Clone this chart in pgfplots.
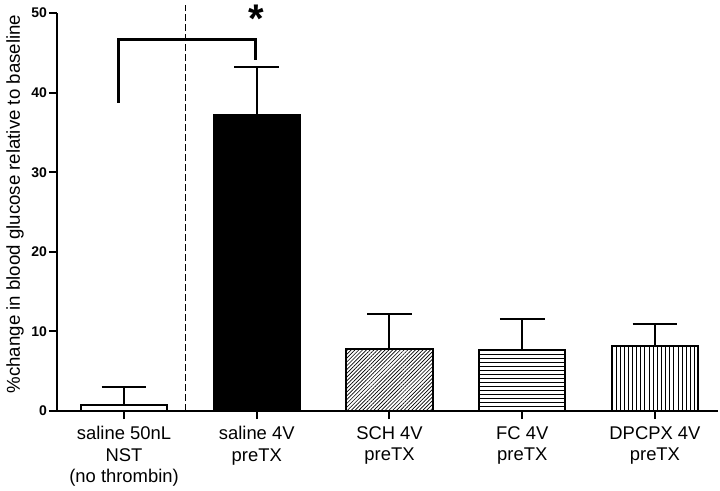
\documentclass[border=0pt]{standalone}
\usepackage{fontspec}
\setmainfont{Liberation Sans}
\usepackage{pgfplots}
\pgfplotsset{compat=1.18}
\usetikzlibrary{patterns.meta}
\begin{document}
\begin{tikzpicture}
\pgfplotsset{
  mybar/.style={ybar, bar width=0.65, bar shift=0pt, draw=black, line width=1.5pt,
    error bars/y dir=plus, error bars/y explicit,
    error bars/error bar style={line width=1.5pt, black},
    error bars/error mark options={line width=1.5pt, mark size=16.8pt, black, rotate=90}},
}
\begin{axis}[name=ax, at={(0,0)}, anchor=south west,
  scale only axis, width=495.75pt, height=298.5pt,
  xmin=-0.505, xmax=4.475, ymin=0, ymax=50,
  axis lines=left, axis line style={line width=1.5pt, -},
  /pgf/number format/assume math mode=true,
  xtick={0,1,2,3,4},
  xticklabels={{saline 50nL\\NST\\(no thrombin)},{saline 4V\\preTX},{SCH 4V\\preTX},{FC 4V\\preTX},{DPCPX 4V\\preTX}},
  xticklabel style={align=center, font=\fontsize{13.8}{16}\selectfont, yshift=-2pt},
  ytick={0,10,20,30,40,50},
  yticklabel style={font=\bfseries\fontsize{10.5}{12}\selectfont, xshift=2pt},
  tick align=outside, tick pos=left, major tick length=6pt,
  xtick style={line width=1.5pt, draw=black},
  ytick style={line width=1.5pt, draw=black},
  ylabel={\%change in blood glucose relative to baseline},
  ylabel style={at={(axis description cs:-0.0635,0.52)}, anchor=center, font=\fontsize{14}{16}\selectfont},
  clip=false,
]
\addplot[mybar, fill=white] coordinates {(0,0.7) +- (0,2.3)};
\addplot[mybar, fill=black] coordinates {(1,37.2) +- (0,6.0)};
\addplot[mybar, pattern={Lines[angle=45,distance=2pt,line width=0.5pt]}, pattern color=black] coordinates {(2,7.8) +- (0,4.4)};
\addplot[mybar, pattern={Lines[angle=0,distance=3pt,line width=0.5pt]}, pattern color=black] coordinates {(3,7.7) +- (0,3.9)};
\addplot[mybar, pattern={Lines[angle=90,distance=3.1pt,line width=0.5pt]}, pattern color=black] coordinates {(4,8.2) +- (0,2.7)};
% divider
\addplot[black, line width=0.75pt, dash pattern=on 5pt off 2.5pt] coordinates {(0.46,0) (0.46,51)};
% significance bracket
\addplot[black, line width=2.2pt, line join=miter] coordinates {(-0.04,38.7) (-0.04,46.7) (0.99,46.7) (0.99,44.1)};
\node[anchor=north, inner sep=0pt, font=\bfseries\fontsize{30}{30}\selectfont] at (axis cs:1,51.0) {*};
\end{axis}
\pgfresetboundingbox
\path (-42.75pt,-59.25pt) rectangle (497.25pt,308.25pt);
\end{tikzpicture}
\end{document}
